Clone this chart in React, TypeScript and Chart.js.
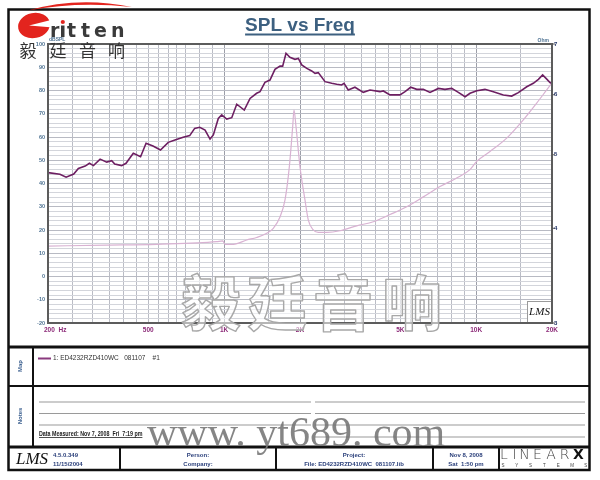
import React, { useEffect, useRef } from "react";
import { Chart, registerables } from "chart.js";

Chart.register(...registerables);

// ---------- data ----------
const SPL_FREQ = [200, 223, 236, 253, 264, 281, 292, 303, 322, 342, 358, 368, 392, 408, 436, 466, 490, 522, 559, 600, 638, 688, 730, 764, 800, 840, 879, 906, 948, 978, 1024, 1072, 1122, 1202, 1267, 1346, 1388, 1452, 1520, 1591, 1666, 1707, 1760, 1824, 1910, 1970, 2032, 2128, 2226, 2294, 2364, 2514, 2672, 2798, 2926, 2990, 3108, 3304, 3566, 3792, 4150, 4282, 4552, 4986, 5222, 5500, 5810, 6170, 6560, 7080, 7520, 8000, 8500, 9040, 9460, 10060, 10840, 11700, 12820, 13840, 14700, 15880, 16860, 17660, 18360, 18940, 19640, 20000];
const SPL_DB = [44.7, 44.0, 42.7, 44.1, 46.5, 47.5, 48.7, 47.7, 50.5, 49.2, 49.8, 48.4, 47.7, 48.7, 53.0, 51.5, 57.3, 56.1, 54.4, 57.7, 58.7, 59.9, 60.6, 63.7, 64.2, 63.0, 59.1, 60.9, 68.0, 69.5, 67.7, 68.3, 74.1, 71.6, 76.6, 78.8, 79.5, 83.5, 84.5, 89.1, 90.5, 90.5, 96.0, 94.3, 93.4, 93.8, 91.0, 89.5, 88.4, 87.4, 87.7, 83.8, 83.1, 82.7, 82.4, 83.1, 80.2, 81.4, 79.2, 80.2, 79.5, 79.8, 78.1, 78.1, 79.5, 81.4, 80.5, 80.5, 79.2, 80.9, 80.5, 80.9, 79.2, 77.3, 78.8, 79.9, 80.5, 79.5, 78.1, 77.6, 79.1, 81.6, 83.1, 84.8, 86.7, 85.2, 83.4, 83.0];

const IMP_FREQ = [200, 342, 540, 934, 987, 1008, 1088, 1229, 1346, 1476, 1567, 1666, 1744, 1814, 1871, 1893, 1928, 2000, 2093, 2158, 2258, 2364, 2553, 2883, 3358, 3908, 4552, 5302, 6172, 7187, 8372, 9454, 10050, 11350, 13220, 15390, 17390, 19060, 20000];
const IMP_OHM = [3.79, 3.80, 3.81, 3.84, 3.85, 3.81, 3.81, 3.86, 3.89, 3.94, 4.00, 4.14, 4.36, 4.82, 5.45, 5.73, 5.45, 4.82, 4.36, 4.10, 3.98, 3.95, 3.95, 3.97, 4.03, 4.08, 4.17, 4.27, 4.40, 4.54, 4.66, 4.78, 4.90, 5.05, 5.26, 5.56, 5.85, 6.09, 6.22];

const X_TICKS = [200, 500, 1000, 2000, 5000, 10000, 20000];
const X_TICK_LABELS = ["200  Hz", "500", "1K", "2K", "5K", "10K", "20K"];
const Y_TICKS = [100, 90, 80, 70, 60, 50, 40, 30, 20, 10, 0, -10, -20];
const Y2_TICKS = [7, 6, 5, 4, 3];
const GRID_FREQS = [200, 250, 300, 350, 400, 450, 500, 550, 600, 650, 700, 800, 900, 1000, 1500, 2000, 2500, 3000, 3500, 4000, 4500, 5000, 5500, 6000, 7000, 8000, 9000, 10000, 15000, 20000];
const MAJOR_FREQS = [1000, 2000, 10000];
const LEGEND_LABEL = "1: ED4232RZD410WC   081107    #1";

// ---------- helpers ----------
function txt(ctx: CanvasRenderingContext2D, s: string, x: number, y: number, font: string, color: string, align: CanvasTextAlign = "left", baseline: CanvasTextBaseline = "middle") {
  ctx.font = font;
  ctx.fillStyle = color;
  ctx.textAlign = align;
  ctx.textBaseline = baseline;
  ctx.fillText(s, x, y);
}
function hline(ctx: CanvasRenderingContext2D, x1: number, x2: number, y: number, w: number, c: string) {
  ctx.fillStyle = c;
  ctx.fillRect(x1, y - w / 2, x2 - x1, w);
}
function vline(ctx: CanvasRenderingContext2D, x: number, y1: number, y2: number, w: number, c: string) {
  ctx.fillStyle = c;
  ctx.fillRect(x - w / 2, y1, w, y2 - y1);
}

const decor = {
  id: "decor",
  afterDraw(chart: any) {
    const ctx: CanvasRenderingContext2D = chart.ctx;
    const ca = chart.chartArea;
    const xs = chart.scales.x, ys = chart.scales.y, y2 = chart.scales.y2;
    ctx.save();

    // LMS box inside plot
    ctx.fillStyle = "#fff";
    ctx.fillRect(527, 301, 25, 22);
    ctx.strokeStyle = "#9a9a9a";
    ctx.lineWidth = 1;
    ctx.strokeRect(527.5, 301.5, 25, 22);
    txt(ctx, "LMS", 539.5, 312, "italic 11px 'Liberation Serif'", "#111", "center");

    // plot border
    ctx.strokeStyle = "#5c5c5c";
    ctx.lineWidth = 2;
    ctx.strokeRect(ca.left, ca.top, ca.right - ca.left, ca.bottom - ca.top);

    // left tick labels
    const blue = "#4f7393";
    Y_TICKS.forEach((v) => txt(ctx, String(v), ca.left - 3, ys.getPixelForValue(v), "bold 5.5px 'Liberation Sans'", blue, "right"));
    txt(ctx, "dBSPL", ca.left + 1, 39.5, "bold 5px 'Liberation Sans'", blue, "left");

    // x labels
    X_TICKS.forEach((v, i) => {
      const x = xs.getPixelForValue(v);
      txt(ctx, X_TICK_LABELS[i], i === 0 ? x - 4 : x, 330.5, "bold 6.5px 'Liberation Sans'", "#8c2a78", i === 0 ? "left" : "center");
    });

    // right tick labels
    Y2_TICKS.forEach((v) => {
      const y = y2.getPixelForValue(v);
      hline(ctx, ca.right, ca.right + 3, y, 1, "#555");
      txt(ctx, String(v), ca.right + 2, y, "bold 6px 'Liberation Sans'", "#223366", "left");
    });
    txt(ctx, "Ohm", 549, 40.5, "bold 5px 'Liberation Sans'", blue, "right");

    // title
    txt(ctx, "SPL vs Freq", 300, 26, "bold 19px 'Liberation Sans'", "#3d6080", "center");
    ctx.font = "bold 19px 'Liberation Sans'";
    const tw = ctx.measureText("SPL vs Freq").width;
    hline(ctx, 300 - tw / 2, 300 + tw / 2, 34.5, 2, "#3d6080");

    // frame & sections
    const K = "#111";
    ctx.strokeStyle = K;
    ctx.lineWidth = 2.5;
    ctx.strokeRect(8.5, 9.5, 581, 460.5);
    hline(ctx, 8, 590, 347, 3, K);
    hline(ctx, 8, 590, 386, 2, K);
    hline(ctx, 8, 590, 447, 3, K);
    vline(ctx, 33, 347, 447, 2, K);
    [120, 276, 433, 499].forEach((x) => vline(ctx, x, 447, 470, 2, K));

    // Map / Notes labels
    const lab = (s: string, cy: number) => {
      ctx.save();
      ctx.translate(20.5, cy);
      ctx.rotate(-Math.PI / 2);
      txt(ctx, s, 0, 0, "bold 6px 'Liberation Sans'", "#3b5f8f", "center");
      ctx.restore();
    };
    lab("Map", 366);
    lab("Notes", 416);

    // legend
    hline(ctx, 38, 51, 358.5, 2, "#8a3a7e");
    txt(ctx, LEGEND_LABEL, 53, 358.5, "6.5px 'Liberation Sans'", "#333", "left");

    // notes lines
    [402, 413.5, 425].forEach((y) => {
      hline(ctx, 39, 311, y, 1, "#9a9a9a");
      hline(ctx, 315, 585, y, 1, "#9a9a9a");
    });
    hline(ctx, 315, 585, 437, 1, "#9a9a9a");
    const dm = "Data Measured: Nov 7, 2008  Fri  7:19 pm";
    ctx.save();
    ctx.translate(39, 436);
    ctx.scale(0.82, 1);
    txt(ctx, dm, 0, 0, "bold 6.5px 'Liberation Sans'", "#222", "left", "alphabetic");
    const dmw = ctx.measureText(dm).width;
    hline(ctx, 0, dmw, 1.5, 0.8, "#222");
    ctx.restore();

    // footer
    const fb = "#2a3f7a";
    txt(ctx, "LMS", 16, 460, "italic 17px 'Liberation Serif'", "#111", "left");
    txt(ctx, "4.5.0.349", 53, 455, "bold 6px 'Liberation Sans'", fb, "left");
    txt(ctx, "11/15/2004", 53, 464, "bold 6px 'Liberation Sans'", fb, "left");
    txt(ctx, "Person:", 198, 455, "bold 6px 'Liberation Sans'", fb, "center");
    txt(ctx, "Company:", 198, 464, "bold 6px 'Liberation Sans'", fb, "center");
    txt(ctx, "Project:", 354, 455, "bold 6px 'Liberation Sans'", fb, "center");
    txt(ctx, "File: ED4232RZD410WC  081107.lib", 354, 464, "bold 6px 'Liberation Sans'", fb, "center");
    txt(ctx, "Nov 8, 2008", 466, 455, "bold 6px 'Liberation Sans'", fb, "center");
    txt(ctx, "Sat  1:50 pm", 466, 464, "bold 6px 'Liberation Sans'", fb, "center");
    const lx = [504, 514.5, 524.5, 537.5, 551, 564.5];
    "LINEAR".split("").forEach((c, i) => txt(ctx, c, lx[i], 455, "200 14px 'DejaVu Sans'", "#444", "center"));
    txt(ctx, "X", 578.5, 455, "900 14px 'DejaVu Sans'", "#111", "center");
    "SYSTEMS".split("").forEach((c, i) => txt(ctx, c, 503 + i * 13.8, 465.5, "4.5px 'Liberation Sans'", "#444", "center"));

    // top-left logo
    ctx.fillStyle = "#e3241e";
    ctx.beginPath();
    ctx.moveTo(28, 10.5);
    ctx.quadraticCurveTo(78, -4, 132, 7);
    ctx.quadraticCurveTo(78, 1, 28, 10.5);
    ctx.fill();
    ctx.beginPath();
    ctx.ellipse(34, 25.5, 16, 12.5, -0.2, 0, Math.PI * 2);
    ctx.fill();
    ctx.fillStyle = "#fff";
    ctx.beginPath();
    ctx.moveTo(53, 19.5);
    ctx.lineTo(29, 25.5);
    ctx.lineTo(53, 27.5);
    ctx.fill();
    const lf = "bold 19px 'DejaVu Sans'";
    const dk = "#3a3a3a";
    txt(ctx, "r", 50, 37, lf, dk, "left", "alphabetic");
    ctx.fillStyle = dk;
    ctx.fillRect(61, 25.5, 3.5, 11.5);
    ctx.fillStyle = "#e3241e";
    ctx.beginPath();
    ctx.arc(62.8, 22, 2.1, 0, Math.PI * 2);
    ctx.fill();
    txt(ctx, "t", 67, 37, lf, dk, "left", "alphabetic");
    txt(ctx, "t", 81, 37, lf, dk, "left", "alphabetic");
    txt(ctx, "e", 94, 37, lf, dk, "left", "alphabetic");
    txt(ctx, "n", 111, 37, lf, dk, "left", "alphabetic");
    ["毅", "廷", "音", "响"].forEach((c, i) => txt(ctx, c, [28, 58, 87.5, 116.5][i], 51, "17px 'Noto Sans CJK SC'", "#333", "center"));

    // watermarks
    ctx.lineJoin = "round";
    ["毅", "廷", "音", "响"].forEach((c, i) => {
      const x = [211, 277, 343, 412][i];
      ctx.font = "700 60px 'Noto Sans CJK SC'";
      ctx.textAlign = "center";
      ctx.textBaseline = "middle";
      ctx.fillStyle = "rgba(255,255,255,0.55)";
      ctx.fillText(c, x, 303);
      ctx.strokeStyle = "#a8a8a8";
      ctx.lineWidth = 1.4;
      ctx.strokeText(c, x, 303);
    });
    txt(ctx, "www. yt689. com", 147, 446, "42px 'Liberation Serif'", "rgba(120,120,120,0.9)", "left", "alphabetic");

    ctx.restore();
  },
};

export default function App() {
  const ref = useRef<HTMLCanvasElement>(null);
  useEffect(() => {
    const chart = new Chart(ref.current as HTMLCanvasElement, {
      type: "line",
      data: {
        datasets: [
          {
            label: "SPL",
            data: SPL_FREQ.map((f, i) => ({ x: f, y: SPL_DB[i] })),
            yAxisID: "y",
            borderColor: "#6d1f62",
            borderWidth: 1.6,
            pointRadius: 0,
            tension: 0,
          },
          {
            label: "Impedance",
            data: IMP_FREQ.map((f, i) => ({ x: f, y: IMP_OHM[i] })),
            yAxisID: "y2",
            borderColor: "#d8b2d2",
            borderWidth: 1.2,
            pointRadius: 0,
            cubicInterpolationMode: "monotone",
          },
        ],
      },
      options: {
        responsive: false,
        animation: false,
        devicePixelRatio: 1,
        layout: { padding: { left: 48, right: 48, top: 44, bottom: 157 } },
        plugins: { legend: { display: false }, tooltip: { enabled: false }, title: { display: false } },
        scales: {
          x: {
            type: "logarithmic",
            min: 200,
            max: 20000,
            afterBuildTicks: (s: any) => {
              s.ticks = GRID_FREQS.map((v) => ({ value: v }));
            },
            ticks: { display: false },
            grid: {
              drawTicks: false,
              lineWidth: 1,
              color: (c: any) => (c.tick && MAJOR_FREQS.includes(c.tick.value) ? "#9c9ea8" : "#babcc5"),
            },
            border: { display: false },
          },
          y: {
            type: "linear",
            min: -20,
            max: 100,
            afterBuildTicks: (s: any) => {
              const t: any[] = [];
              for (let v = -20; v <= 100; v += 2) t.push({ value: v });
              s.ticks = t;
            },
            ticks: { display: false },
            grid: {
              drawTicks: false,
              lineWidth: 1,
              color: (c: any) => (c.tick && c.tick.value % 10 === 0 ? "#b8bac3" : "#d3d5db"),
            },
            border: { display: false },
          },
          y2: {
            type: "logarithmic",
            position: "right",
            min: 3,
            max: 7,
            ticks: { display: false },
            grid: { display: false, drawTicks: false },
            border: { display: false },
          },
        },
      } as any,
      plugins: [decor as any],
    });
    return () => chart.destroy();
  }, []);
  return (
    <div style={{ position: "fixed", left: 0, top: 0, width: 600, height: 480, background: "#fff" }}>
      <canvas ref={ref} width={600} height={480} style={{ width: 600, height: 480, display: "block" }} />
    </div>
  );
}
